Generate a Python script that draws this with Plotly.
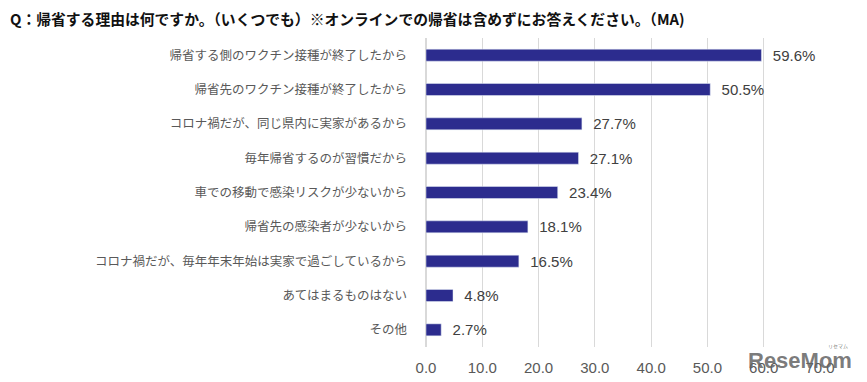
import plotly.graph_objects as go

categories = [
    "帰省する側のワクチン接種が終了したから",
    "帰省先のワクチン接種が終了したから",
    "コロナ禍だが、同じ県内に実家があるから",
    "毎年帰省するのが習慣だから",
    "車での移動で感染リスクが少ないから",
    "帰省先の感染者が少ないから",
    "コロナ禍だが、毎年年末年始は実家で過ごしているから",
    "あてはまるものはない",
    "その他",
]
values = [59.6, 50.5, 27.7, 27.1, 23.4, 18.1, 16.5, 4.8, 2.7]
title_text = "Q：帰省する理由は何ですか。（いくつでも）※オンラインでの帰省は含めずにお答えください。（MA)"
watermark = "ReseMom"
watermark_kana = "リセマム"

font_family = "Noto Sans CJK JP, Noto Sans, sans-serif"
num_font = "Liberation Sans, Arial, sans-serif"

# page body has an 8px margin, so the figure is offset by 8px
OFF = 8
W, H = 867 - OFF, 382 - OFF
L, R, T, B = 426 - OFF, 47, 38 - OFF, 35
pw, ph = W - L - R, H - T - B


def px_x(x):
    return (x - OFF - L) / pw


def px_y(y):
    return 1 - (y - OFF - T) / ph


fig = go.Figure(
    go.Bar(
        y=categories,
        x=values,
        orientation="h",
        marker=dict(color="#2c2c8e"),
        width=0.35,
        text=values,
        texttemplate="  %{x:.1f}%",
        textposition="outside",
        constraintext="none",
        textfont=dict(size=15, color="#404040", family=num_font),
        cliponaxis=False,
    )
)

fig.update_layout(
    width=W,
    height=H,
    margin=dict(l=L, r=R, t=T, b=B, autoexpand=False),
    paper_bgcolor="white",
    plot_bgcolor="white",
    showlegend=False,
    font=dict(family=font_family),
)
fig.add_annotation(
    text="<b>" + title_text + "</b>",
    xref="paper", yref="paper",
    x=px_x(8), y=px_y(18),
    xanchor="left", yanchor="middle",
    showarrow=False,
    font=dict(size=14.8, color="#111111", family=font_family),
)
fig.add_annotation(
    text="<b>" + watermark + "</b>",
    xref="paper", yref="paper",
    x=px_x(854), y=px_y(360),
    xanchor="right", yanchor="middle",
    showarrow=False,
    font=dict(size=22, color="rgba(100,100,100,0.85)", family=num_font),
)
fig.add_annotation(
    text=watermark_kana,
    xref="paper", yref="paper",
    x=px_x(838), y=px_y(346),
    xanchor="center", yanchor="middle",
    showarrow=False,
    font=dict(size=5, color="rgba(100,100,100,0.85)", family=font_family),
)

fig.update_xaxes(
    range=[0, 70],
    dtick=10,
    tickformat=".1f",
    showgrid=True,
    gridcolor="#d9d9d9",
    gridwidth=1,
    zeroline=True,
    zerolinecolor="#d9d9d9",
    tickfont=dict(size=15, color="#595959", family=num_font),
    ticks="",
    ticklabelstandoff=10,
    showline=False,
    automargin=False,
)
fig.update_yaxes(
    categoryorder="array",
    categoryarray=categories,
    autorange="reversed",
    tickfont=dict(size=12.5, color="#595959", family=font_family),
    ticks="",
    ticklabelstandoff=18,
    showline=False,
    automargin=False,
)

fig.write_html("out.html")
